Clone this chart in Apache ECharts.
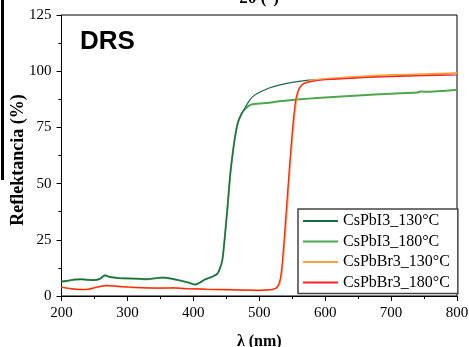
<!DOCTYPE html>
<html>
<head>
<meta charset="utf-8">
<script src="https://cdn.jsdelivr.net/npm/echarts@6/dist/echarts.min.js"></script>
<style>
  html, body { margin: 0; padding: 0; background: #fff; }
  #chart { width: 469px; height: 347px; }
</style>
</head>
<body>
<div id="chart"></div>
<script>
// wavelengths (nm) and reflectance (%)
const wlI3 = [200, 210, 220, 230, 240, 250, 258, 266, 272, 280, 290, 300, 315, 330, 345, 355, 365, 380, 392, 403, 410, 418, 428, 436, 440, 444, 448, 452, 456, 460, 464, 468, 473, 478, 484, 490, 500, 515, 530, 550, 575, 600, 650, 700, 740, 745, 750, 800]
const i3_130 = [6.4, 6.8, 7.3, 7.4, 7.2, 7.1, 7.6, 9.2, 8.6, 8.2, 7.9, 7.8, 7.7, 7.5, 8.0, 8.2, 7.8, 6.9, 6.0, 5.1, 6.0, 7.4, 8.5, 9.8, 12, 16, 27, 40, 54, 64, 72, 77.5, 81, 83.5, 86.5, 88.7, 90.5, 92.5, 93.8, 95, 96, 96.5, 97.3, 98, 98.4, 98.5, 98.5, 99]
const i3_180 = [6.4, 6.8, 7.3, 7.4, 7.2, 7.1, 7.6, 9.2, 8.6, 8.2, 7.9, 7.8, 7.7, 7.5, 8.0, 8.2, 7.8, 6.9, 6.0, 5.1, 6.0, 7.4, 8.5, 9.8, 12, 16, 27, 40, 54, 64, 72, 77.5, 81, 83, 84.6, 85.3, 85.6, 86, 86.6, 87.2, 87.8, 88.3, 89.2, 90, 90.5, 91.0, 90.9, 91.8]

const wlBr3 = [200, 215, 230, 240, 255, 268, 280, 300, 320, 350, 370, 390, 420, 450, 480, 500, 515, 522, 527, 531, 534, 537, 540, 543, 546, 549, 552, 555, 558, 562, 568, 580, 600, 650, 700, 750, 800]
const br3_130 = [3.9, 3.2, 2.9, 3.0, 4.0, 4.6, 4.4, 4.0, 3.7, 3.5, 3.6, 3.3, 3.0, 2.8, 2.6, 2.5, 2.7, 3.0, 3.7, 5.5, 10, 19, 30, 42, 55, 66, 76, 84.5, 89.5, 92.8, 94.6, 95.8, 96.6, 97.6, 98.3, 98.7, 99.1]
const br3_180 = [3.9, 3.2, 2.9, 3.0, 4.0, 4.6, 4.4, 4.0, 3.7, 3.5, 3.6, 3.3, 3.0, 2.8, 2.6, 2.5, 2.7, 3.1, 4.0, 6.5, 12, 22, 34, 46, 58, 69, 79, 86.5, 90.5, 93, 94.5, 95.5, 96.2, 97, 97.6, 98, 98.3]

const seriesNames = ['CsPbI3_130°C', 'CsPbI3_180°C', 'CsPbBr3_130°C', 'CsPbBr3_180°C']
const xTicks = [200, 800, 100]   // min, max, interval
const yTicks = [0, 125, 25]

const pairs = (xs, ys) => xs.map((x, i) => [x, ys[i]])

const serif = 'Liberation Serif'
const chart = echarts.init(document.getElementById('chart'))

const line = (name, data, color, width, z) => ({
    name: name,
    type: 'line',
    data: data,
    symbol: 'none',
    smooth: 0.3,
    z: z,
    lineStyle: { color: color, width: width },
    itemStyle: { color: color }
})

chart.setOption({
    animation: false,
    grid: {
        left: 61.5,
        right: 12,
        top: 15,
        bottom: 51,
        outerBoundsMode: 'none',
        show: true,
        borderColor: '#000',
        borderWidth: 1
    },
    legend: {
        data: seriesNames,
        orient: 'vertical',
        left: 298,
        top: 209,
        padding: [4, 8, 3, 4],
        itemWidth: 35,
        itemHeight: 14,
        itemGap: 4.5,
        itemStyle: { opacity: 0 },
        borderColor: '#444',
        borderWidth: 1.5,
        backgroundColor: '#fff',
        textStyle: { fontFamily: serif, fontSize: 16, color: '#000' }
    },
    xAxis: {
        type: 'value',
        min: xTicks[0],
        max: xTicks[1],
        interval: xTicks[2],
        name: 'λ (nm)',
        nameLocation: 'middle',
        nameGap: 38,
        nameMoveOverlap: false,
        nameTextStyle: { fontFamily: serif, fontSize: 16, fontWeight: 'bold', color: '#000' },
        axisLine: { lineStyle: { color: '#000', width: 1 } },
        axisTick: { length: 5, lineStyle: { color: '#000' } },
        minorTick: { show: true, splitNumber: 2, length: 3, lineStyle: { color: '#000' } },
        axisLabel: { fontFamily: serif, fontSize: 15, color: '#000', margin: 10 },
        splitLine: { show: false }
    },
    yAxis: {
        type: 'value',
        min: yTicks[0],
        max: yTicks[1],
        interval: yTicks[2],
        name: 'Reflektancia (%)',
        nameLocation: 'middle',
        nameGap: 34,
        nameMoveOverlap: false,
        nameTextStyle: { fontFamily: serif, fontSize: 18, fontWeight: 'bold', color: '#000', padding: [0, 9, 0, 0] },
        axisLine: { show: true, lineStyle: { color: '#000', width: 1 } },
        axisTick: { show: true, length: 5, lineStyle: { color: '#000' } },
        minorTick: { show: true, splitNumber: 2, length: 3, lineStyle: { color: '#000' } },
        axisLabel: { fontFamily: serif, fontSize: 15, color: '#000', margin: 10 },
        splitLine: { show: false }
    },
    series: [
        line(seriesNames[0], pairs(wlI3, i3_130), '#1b6b4a', 1.2, 4),
        line(seriesNames[1], pairs(wlI3, i3_180), '#4ea64e', 2, 3),
        line(seriesNames[2], pairs(wlBr3, br3_130), '#ffa040', 1.8, 5),
        line(seriesNames[3], pairs(wlBr3, br3_180), '#ff2020', 1.2, 6)
    ],
    graphic: [
        {
            type: 'text',
            left: 80,
            top: 29,
            style: { text: 'DRS', font: 'bold 26px "Liberation Sans"', fill: '#000' }
        },
        {
            type: 'text',
            x: 259,
            y: 7,
            style: { text: '2θ (°)', font: 'bold 17px "Liberation Serif"', fill: '#000', textAlign: 'center', textVerticalAlign: 'bottom' }
        },
        {
            type: 'rect',
            shape: { x: 1, y: 0, width: 3, height: 180 },
            style: { fill: '#000' }
        }
    ]
})
</script>
</body>
</html>
